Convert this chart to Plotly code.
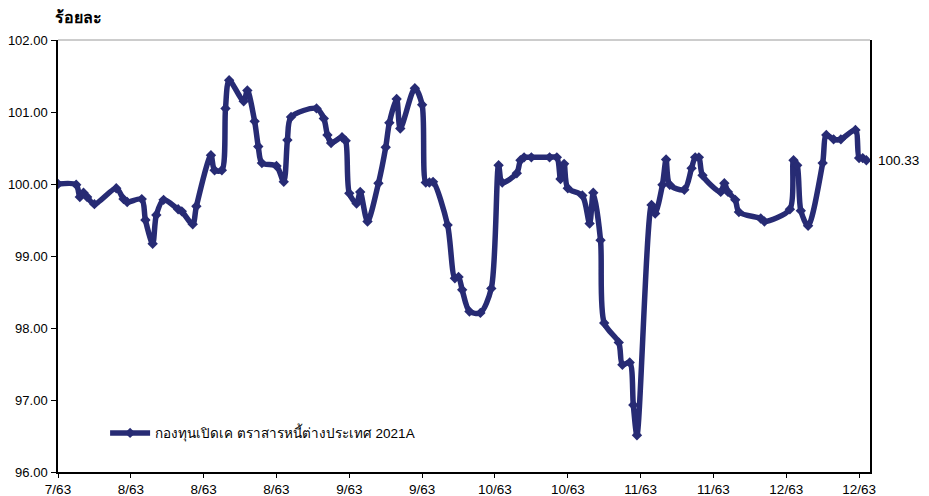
import plotly.graph_objects as go

# observation position (index on the chart's time scale) and NAV in percent
obs = [0, 5, 6, 7, 8, 10, 16, 18, 19, 23, 24, 26, 27, 29, 33, 34, 37, 38,
       42, 43, 45, 46, 47, 51, 52, 54, 55, 56, 60, 62, 63, 64, 71, 73, 74, 75,
       78, 79, 80, 82, 83, 85, 88, 90, 91, 93, 94, 98, 100, 101, 102, 103,
       107, 109, 110, 111, 113, 116, 119, 121, 122, 126, 127, 128, 130, 135,
       137, 138, 139, 140, 144, 146, 147, 149, 150, 154, 155, 157, 158, 159,
       163, 164, 166, 167, 168, 172, 174, 175, 176, 177, 182, 183, 184, 186,
       187, 193, 194, 201, 202, 203, 204, 206, 210, 211, 213, 215, 219, 220,
       221, 222]
values = [100.00, 99.99, 99.82, 99.88, 99.82, 99.72, 99.94, 99.79, 99.75,
          99.79, 99.50, 99.17, 99.57, 99.78, 99.65, 99.62, 99.44, 99.69,
          100.40, 100.19, 100.19, 101.05, 101.44, 101.15, 101.30, 100.87,
          100.52, 100.29, 100.25, 100.03, 100.61, 100.93, 101.05, 100.91,
          100.68, 100.57, 100.65, 100.60, 99.87, 99.73, 99.89, 99.48, 100.01,
          100.51, 100.85, 101.18, 100.77, 101.33, 101.10, 100.02, 100.02,
          100.03, 99.43, 98.69, 98.71, 98.53, 98.23, 98.21, 98.55, 100.26,
          100.02, 100.15, 100.33, 100.37, 100.37, 100.37, 100.37, 100.07,
          100.28, 99.94, 99.84, 99.45, 99.88, 99.22, 98.07, 97.80, 97.49,
          97.52, 96.93, 96.51, 99.71, 99.59, 99.99, 100.34, 99.99, 99.92,
          100.22, 100.37, 100.37, 100.12, 99.89, 100.01, 99.89, 99.78, 99.61,
          99.52, 99.48, 99.65, 100.33, 100.26, 99.63, 99.42, 100.29, 100.68,
          100.62, 100.62, 100.75, 100.36, 100.36, 100.33]

tick_pos = [0, 20, 40, 60, 80, 100, 120, 140, 160, 180, 200, 220]
tick_labels = ["7/63", "8/63", "8/63", "8/63", "9/63", "9/63", "10/63",
               "10/63", "11/63", "11/63", "12/63", "12/63"]
y_ticks = [96, 97, 98, 99, 100, 101, 102]

series_name = "กองทุนเปิดเค ตราสารหนี้ต่างประเทศ 2021A"
y_title = "ร้อยละ"
last_label = "100.33"

color = "#272B74"
font = "Liberation Sans, Arial, sans-serif"

fig = go.Figure()
fig.add_trace(go.Scatter(
    x=obs, y=values, mode="lines+markers", name=series_name,
    line=dict(color=color, width=5.5, shape="spline", smoothing=0.8),
    marker=dict(symbol="diamond", size=8, color=color),
))

# the page body adds an 8px offset, so the figure is 8px smaller and shifted
fig.update_layout(
    width=921, height=488,
    margin=dict(l=50, r=59, t=32, b=24, autoexpand=False),
    paper_bgcolor="white", plot_bgcolor="white",
    font=dict(family=font, size=13.5, color="#000000"),
    showlegend=True,
    legend=dict(x=0.058, y=0.09, xanchor="left", yanchor="middle",
                bgcolor="rgba(0,0,0,0)", font=dict(size=13.5, color="#000000"),
                itemwidth=40),
    xaxis=dict(
        range=[0, 223], tickmode="array", tickvals=tick_pos, ticktext=tick_labels,
        showgrid=False, zeroline=False, showline=True, linecolor="#000000",
        linewidth=2, ticks="outside", ticklen=4, tickcolor="#000000",
        tickfont=dict(size=13.5), automargin=False,
    ),
    yaxis=dict(
        range=[96, 102], tickmode="array", tickvals=y_ticks,
        tickformat=".2f", showgrid=False, zeroline=False, showline=True,
        linecolor="#000000", linewidth=1.5, mirror=True, ticks="outside",
        ticklen=5, tickcolor="#000000", tickfont=dict(size=13),
        ticklabelstandoff=1, automargin=False,
    ),
    shapes=[dict(type="line", xref="paper", yref="paper", x0=0, x1=1, y0=1, y1=1,
                 line=dict(color="#9a9a9a", width=1))],
    annotations=[
        dict(text="<b>" + y_title + "</b>", xref="paper", yref="paper",
             x=-0.006, y=1.0, yshift=23, xanchor="left", yanchor="middle",
             showarrow=False, font=dict(size=16, color="#000000")),
        dict(text=last_label, x=obs[-1], y=values[-1], xref="x", yref="y",
             xanchor="left", yanchor="middle", xshift=10, showarrow=False,
             font=dict(size=13.5, color="#000000")),
    ],
)

fig.write_html("out.html")
